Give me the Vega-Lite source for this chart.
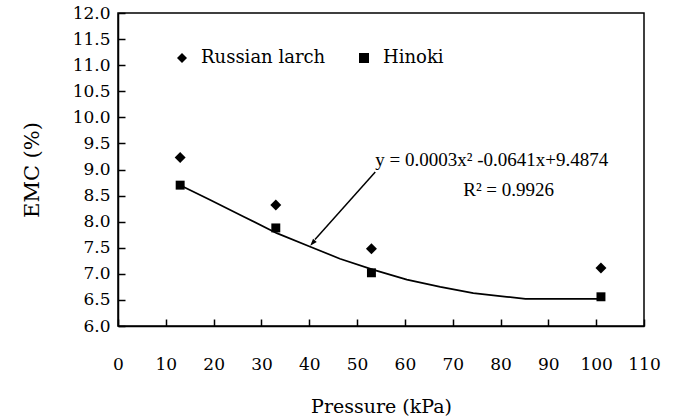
{
  "$schema": "https://vega.github.io/schema/vega-lite/v6.json",
  "width": 526,
  "height": 313,
  "autosize": {"type": "none"},
  "padding": {"left": 118, "top": 13, "right": 34, "bottom": 94},
  "background": "white",
  "config": {
    "view": {"stroke": "black", "strokeWidth": 1.5},
    "axis": {
      "grid": false,
      "domainColor": "black",
      "domainWidth": 1.5,
      "tickColor": "black",
      "tickWidth": 1.5,
      "tickSize": -7,
      "labelFont": "DejaVu Serif",
      "labelFontSize": 17,
      "labelColor": "black",
      "labelOverlap": false,
      "labelFlush": false,
      "titleFont": "DejaVu Serif",
      "titleFontWeight": "normal",
      "titleColor": "black"
    },
    "legend": {
      "labelFont": "DejaVu Serif",
      "labelFontSize": 18,
      "labelColor": "black"
    }
  },
  "datasets": {
    "points": [
      {"series": "Russian larch", "pressure": 13, "emc": 9.23},
      {"series": "Russian larch", "pressure": 33, "emc": 8.32},
      {"series": "Russian larch", "pressure": 53, "emc": 7.48},
      {"series": "Russian larch", "pressure": 101, "emc": 7.11},
      {"series": "Hinoki", "pressure": 13, "emc": 8.70},
      {"series": "Hinoki", "pressure": 33, "emc": 7.88},
      {"series": "Hinoki", "pressure": 53, "emc": 7.02},
      {"series": "Hinoki", "pressure": 101, "emc": 6.56}
    ],
    "fit": [
      {"pressure": 13, "emc": 8.70},
      {"pressure": 19.2, "emc": 8.42},
      {"pressure": 26.2, "emc": 8.10},
      {"pressure": 33.2, "emc": 7.78},
      {"pressure": 40.2, "emc": 7.52},
      {"pressure": 46.4, "emc": 7.29},
      {"pressure": 53.3, "emc": 7.08},
      {"pressure": 60.4, "emc": 6.89},
      {"pressure": 67.4, "emc": 6.75},
      {"pressure": 74.3, "emc": 6.63},
      {"pressure": 81.3, "emc": 6.56},
      {"pressure": 85.2, "emc": 6.52},
      {"pressure": 101.4, "emc": 6.52}
    ],
    "anno": [{}]
  },
  "layer": [
    {
      "data": {"name": "fit"},
      "mark": {"type": "line", "color": "black", "strokeWidth": 1.7},
      "encoding": {
        "x": {
          "field": "pressure", "type": "quantitative",
          "scale": {"domain": [0, 110], "nice": false, "zero": false},
          "axis": {
            "values": [0, 10, 20, 30, 40, 50, 60, 70, 80, 90, 100, 110],
            "labelOverlap": false,
            "labelPadding": 37,
            "title": "Pressure (kPa)",
            "titleFontSize": 19,
            "titlePadding": 25
          }
        },
        "y": {
          "field": "emc", "type": "quantitative",
          "scale": {"domain": [6, 12], "nice": false, "zero": false},
          "axis": {
            "values": [6, 6.5, 7, 7.5, 8, 8.5, 9, 9.5, 10, 10.5, 11, 11.5, 12],
            "tickCount": 13,
            "labelOverlap": false,
            "format": ".1f",
            "labelPadding": 15,
            "title": "EMC (%)",
            "titleFontSize": 21,
            "titlePadding": 30
          }
        }
      }
    },
    {
      "data": {"name": "points"},
      "transform": [{"filter": "datum.series === 'Russian larch'"}],
      "mark": {"type": "point", "filled": true, "color": "black", "opacity": 1, "size": 120},
      "encoding": {
        "x": {"field": "pressure", "type": "quantitative"},
        "y": {"field": "emc", "type": "quantitative"},
        "shape": {
          "field": "series", "type": "nominal",
          "scale": {"domain": ["Russian larch", "Hinoki"], "range": ["diamond", "square"]},
          "legend": {
            "title": null,
            "orient": "none",
            "direction": "horizontal",
            "legendX": 55,
            "legendY": 36,
            "symbolSize": 100,
            "symbolFillColor": "black",
            "symbolStrokeColor": "black",
            "symbolOpacity": 1,
            "labelOffset": 10,
            "columnPadding": 29
          }
        }
      }
    },
    {
      "data": {"name": "points"},
      "transform": [{"filter": "datum.series === 'Hinoki'"}],
      "mark": {"type": "point", "filled": true, "color": "black", "opacity": 1, "size": 80},
      "encoding": {
        "x": {"field": "pressure", "type": "quantitative"},
        "y": {"field": "emc", "type": "quantitative"},
        "shape": {"field": "series", "type": "nominal"}
      }
    },
    {
      "data": {"name": "anno"},
      "mark": {"type": "rule", "color": "black", "strokeWidth": 1.5},
      "encoding": {
        "x": {"datum": 53.8},
        "y": {"datum": 8.95},
        "x2": {"datum": 41.2},
        "y2": {"datum": 7.66}
      }
    },
    {
      "data": {"name": "anno"},
      "mark": {
        "type": "point",
        "shape": "M0,0 L-0.45,1.3 L0.45,1.3 Z",
        "filled": true,
        "color": "black",
        "opacity": 1,
        "size": 120,
        "angle": 221
      },
      "encoding": {
        "x": {"datum": 40.2},
        "y": {"datum": 7.54}
      }
    },
    {
      "data": {"name": "anno"},
      "mark": {"type": "text", "align": "left", "baseline": "middle", "font": "Liberation Serif", "fontSize": 19, "color": "black"},
      "encoding": {
        "x": {"datum": 53.8},
        "y": {"datum": 9.18},
        "text": {"value": "y = 0.0003x² -0.0641x+9.4874"}
      }
    },
    {
      "data": {"name": "anno"},
      "mark": {"type": "text", "align": "left", "baseline": "middle", "font": "Liberation Serif", "fontSize": 19, "color": "black"},
      "encoding": {
        "x": {"datum": 72.2},
        "y": {"datum": 8.61},
        "text": {"value": "R² = 0.9926"}
      }
    }
  ]
}
